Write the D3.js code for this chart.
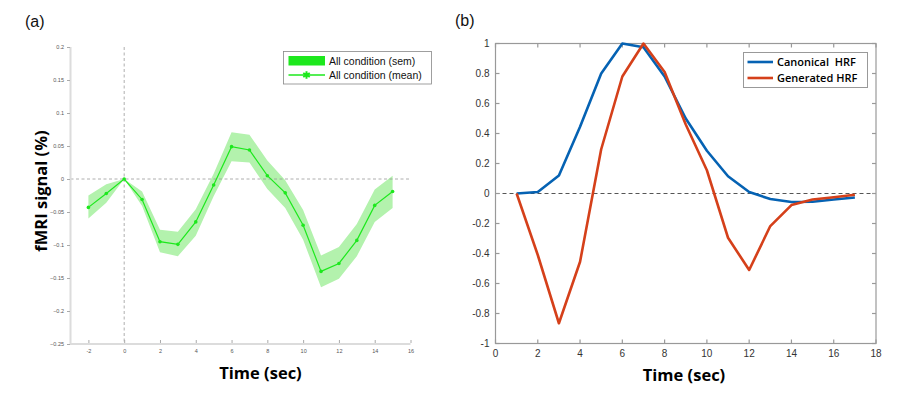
<!DOCTYPE html>
<html><head><meta charset="utf-8">
<script src="https://cdn.jsdelivr.net/npm/d3@7"></script>
<style>body{margin:0;background:#fff}svg{display:block}</style>
</head><body>
<svg id="c" width="923" height="399"></svg>
<script>
// ---- Panel (a) data ----
const timeA = [-2,-1,0,1,2,3,4,5,6,7,8,9,10,11,12,13,14,15];
const meanA = [-0.043,-0.022,0,-0.031,-0.095,-0.099,-0.065,-0.009,0.049,0.044,0.005,-0.021,-0.070,-0.140,-0.128,-0.093,-0.040,-0.019];
const upperA = [-0.025,-0.008,0,-0.019,-0.077,-0.080,-0.046,0.008,0.071,0.067,0.028,-0.002,-0.047,-0.116,-0.103,-0.068,-0.016,0.005];
const lowerA = [-0.060,-0.036,0,-0.041,-0.111,-0.117,-0.086,-0.026,0.027,0.025,-0.015,-0.044,-0.092,-0.164,-0.151,-0.117,-0.065,-0.044];
const xTicksA = [-2,0,2,4,6,8,10,12,14,16];
const yTicksA = [0.2,0.15,0.1,0.05,0,-0.05,-0.1,-0.15,-0.2,-0.25];
const legendA = ["All condition (sem)","All condition (mean)"];

// ---- Panel (b) data ----
const timeB = [1,2,3,4,5,6,7,8,9,10,11,12,13,14,15,16,17];
const canonical = [0,0.01,0.12,0.445,0.80,1.0,0.975,0.78,0.50,0.285,0.115,0.01,-0.037,-0.057,-0.055,-0.04,-0.027];
const generated = [0,-0.41,-0.865,-0.455,0.295,0.78,1.0,0.81,0.46,0.155,-0.295,-0.51,-0.217,-0.077,-0.04,-0.025,-0.008];
const xTicksB = [0,2,4,6,8,10,12,14,16,18];
const yTicksB = [1,0.8,0.6,0.4,0.2,0,-0.2,-0.4,-0.6,-0.8,-1];
const legendB = ["Canonical  HRF","Generated HRF"];

const svg = d3.select("#c");

// ================= Panel (a) =================
const xA = d3.scaleLinear().domain([-3,16]).range([70.5,410.5]);
const yA = d3.scaleLinear().domain([-0.25,0.2]).range([344,47]);
const gA = svg.append("g");

// sem band
const area = d3.area().x((d,i)=>xA(timeA[i])).y0((d,i)=>yA(lowerA[i])).y1((d,i)=>yA(upperA[i]));
gA.append("path").datum(timeA).attr("d",area).attr("fill","#b3f2ad");

// dashed reference lines
gA.append("line").attr("x1",xA(-3)).attr("x2",xA(16)).attr("y1",yA(0)).attr("y2",yA(0))
  .attr("stroke","#999").attr("stroke-width",0.8).attr("stroke-dasharray","3,2.5");
gA.append("line").attr("x1",xA(0)).attr("x2",xA(0)).attr("y1",yA(0.2)).attr("y2",yA(-0.25))
  .attr("stroke","#999").attr("stroke-width",0.8).attr("stroke-dasharray","3,2.5");

// mean line
const lineA = d3.line().x((d,i)=>xA(timeA[i])).y(d=>yA(d));
gA.append("path").datum(meanA).attr("d",lineA).attr("fill","none").attr("stroke","#1de81d").attr("stroke-width",1.2);
gA.selectAll("circle.m").data(meanA).join("circle").attr("class","m")
  .attr("cx",(d,i)=>xA(timeA[i])).attr("cy",d=>yA(d)).attr("r",1.8).attr("fill","#1de81d");

// axes
const axA = gA.append("g").attr("class","axA");
axA.append("line").attr("x1",70.5).attr("x2",70.5).attr("y1",yA(0.2)).attr("y2",yA(-0.25)+1).attr("stroke","#dcdcdc").attr("stroke-width",2);
axA.append("line").attr("x1",70).attr("x2",xA(16)).attr("y1",yA(-0.25)).attr("y2",yA(-0.25)).attr("stroke","#dcdcdc").attr("stroke-width",2);
const yAx = d3.axisLeft(yA).tickValues(yTicksA).tickSize(3).tickPadding(3).tickFormat(d=>d3.format("")(d));
const gy = gA.append("g").attr("transform","translate(70,0)").call(yAx);
gy.select(".domain").remove();
gy.selectAll("line").attr("stroke","#aaa");
gy.selectAll("text").attr("font-family","Liberation Sans, Arial").attr("font-size",5.5).attr("fill","#555");
const xAx = d3.axisTop(xA).tickValues(xTicksA).tickSize(3).tickPadding(0).tickFormat(d=>d);
const gx = gA.append("g").attr("transform",`translate(0,${yA(-0.25)-1})`).call(xAx);
gx.select(".domain").remove();
gx.selectAll("line").attr("stroke","#aaa");
gx.selectAll("text").attr("font-family","Liberation Sans, Arial").attr("font-size",5.5).attr("fill","#555")
  .attr("y",10).attr("dy","0");

// legend (a)
const lgA = gA.append("g");
lgA.append("rect").attr("x",283.5).attr("y",51.5).attr("width",148).attr("height",32.5).attr("fill","#fff").attr("stroke","#888").attr("stroke-width",0.8);
lgA.append("rect").attr("x",288.5).attr("y",56).attr("width",36.5).attr("height",9.5).attr("fill","#1de81d");
lgA.append("line").attr("x1",288.5).attr("x2",325).attr("y1",75).attr("y2",75).attr("stroke","#1de81d").attr("stroke-width",1.3);
lgA.append("path").attr("d",d3.symbol(d3.symbolAsterisk,40)()).attr("transform","translate(306.5,75)").attr("stroke","#1de81d").attr("stroke-width",2);
lgA.selectAll("text").data(legendA).join("text").attr("x",329).attr("y",(d,i)=>61+i*14).attr("dy","0.35em")
  .attr("font-family","Liberation Sans, Arial").attr("font-size",10.5).attr("fill","#111").text(d=>d);

// labels (a)
svg.append("text").attr("x",25).attr("y",27).attr("font-family","Liberation Sans, Arial").attr("font-size",16).attr("fill","#111").text("(a)");
svg.append("text").attr("transform","translate(41.5,191) rotate(-90)").attr("text-anchor","middle").attr("dy","0.35em")
  .attr("font-family","Open Sans, Liberation Sans").attr("font-weight","bold").attr("font-size",16.5).attr("fill","#000").text("fMRI signal (%)");
svg.append("text").attr("x",260.5).attr("y",373).attr("text-anchor","middle").attr("dy","0.35em")
  .attr("font-family","Open Sans, Liberation Sans").attr("font-weight","bold").attr("font-size",16.5).attr("fill","#000").text("Time (sec)");

// ================= Panel (b) =================
const xB = d3.scaleLinear().domain([0,18]).range([495.5,876]);
const yB = d3.scaleLinear().domain([-1,1]).range([343.5,43.5]);
const gB = svg.append("g");

// zero dashed
gB.append("line").attr("x1",xB(0)).attr("x2",xB(18)).attr("y1",yB(0)).attr("y2",yB(0))
  .attr("stroke","#555").attr("stroke-width",1).attr("stroke-dasharray","4,3");

// box + ticks
const tickLen = 4;
const gbx = gB.append("g").attr("stroke","#999").attr("stroke-width",1.2);
gbx.append("rect").attr("x",xB(0)).attr("y",yB(1)).attr("width",xB(18)-xB(0)).attr("height",yB(-1)-yB(1)).attr("fill","none");
xTicksB.forEach(t=>{
  gbx.append("line").attr("x1",xB(t)).attr("x2",xB(t)).attr("y1",yB(-1)).attr("y2",yB(-1)-tickLen);
  gbx.append("line").attr("x1",xB(t)).attr("x2",xB(t)).attr("y1",yB(1)).attr("y2",yB(1)+tickLen);
});
yTicksB.forEach(t=>{
  gbx.append("line").attr("x1",xB(0)).attr("x2",xB(0)+tickLen).attr("y1",yB(t)).attr("y2",yB(t));
  gbx.append("line").attr("x1",xB(18)).attr("x2",xB(18)-tickLen).attr("y1",yB(t)).attr("y2",yB(t));
});
gB.selectAll("text.yt").data(yTicksB).join("text").attr("class","yt")
  .attr("x",xB(0)-6).attr("y",d=>yB(d)).attr("dy","0.35em").attr("text-anchor","end")
  .attr("font-family","Liberation Sans, Arial").attr("font-size",10).attr("fill","#333").text(d=>d);
gB.selectAll("text.xt").data(xTicksB).join("text").attr("class","xt")
  .attr("x",d=>xB(d)).attr("y",yB(-1)+9.5).attr("dy","0.35em").attr("text-anchor","middle")
  .attr("font-family","Liberation Sans, Arial").attr("font-size",10).attr("fill","#333").text(d=>d);

// lines
const lineB = d3.line().x((d,i)=>xB(timeB[i])).y(d=>yB(d));
gB.append("path").datum(canonical).attr("d",lineB).attr("fill","none").attr("stroke","#0562b3").attr("stroke-width",2.6).attr("stroke-linejoin","round");
gB.append("path").datum(generated).attr("d",lineB).attr("fill","none").attr("stroke","#d5401a").attr("stroke-width",2.6).attr("stroke-linejoin","round");

// legend (b)
const lgB = gB.append("g");
lgB.append("rect").attr("x",743.5).attr("y",52.5).attr("width",124).attr("height",35).attr("fill","#fff").attr("stroke","#999").attr("stroke-width",1);
lgB.append("line").attr("x1",747.5).attr("x2",773).attr("y1",62).attr("y2",62).attr("stroke","#0562b3").attr("stroke-width",2.6);
lgB.append("line").attr("x1",747.5).attr("x2",773).attr("y1",78).attr("y2",78).attr("stroke","#d5401a").attr("stroke-width",2.6);
lgB.selectAll("text").data(legendB).join("text").attr("x",777).attr("y",(d,i)=>62.5+i*16).attr("dy","0.35em")
  .attr("font-family","Open Sans, Liberation Sans").attr("font-weight","600").attr("font-size",11).attr("fill","#000")
  .attr("xml:space","preserve").style("white-space","pre").text(d=>d);

svg.append("text").attr("x",455).attr("y",26).attr("font-family","Liberation Sans, Arial").attr("font-size",16).attr("fill","#111").text("(b)");
svg.append("text").attr("x",684).attr("y",375).attr("text-anchor","middle").attr("dy","0.35em")
  .attr("font-family","Open Sans, Liberation Sans").attr("font-weight","bold").attr("font-size",16.5).attr("fill","#000").text("Time (sec)");
</script>
</body></html>
